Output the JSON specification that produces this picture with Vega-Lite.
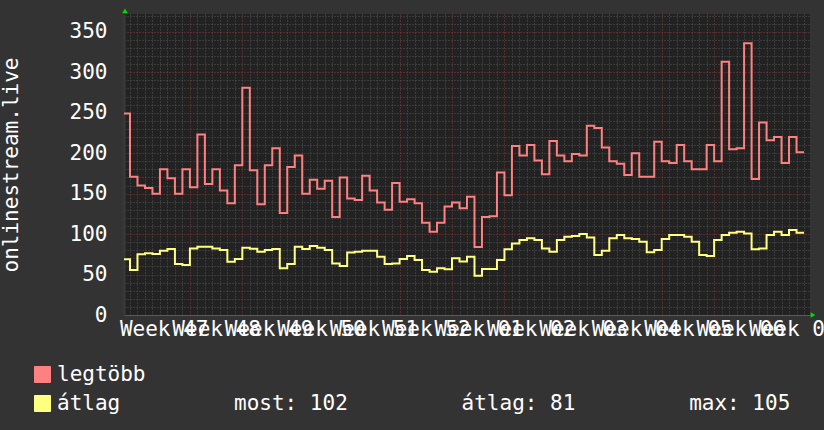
{
  "$schema": "https://vega.github.io/schema/vega-lite/v6.json",
  "width": 686,
  "height": 301,
  "autosize": {"type": "none"},
  "padding": {"left": 124, "top": 14, "right": 14, "bottom": 115},
  "background": "#333333",
  "config": {"view": {"fill": "#222222", "stroke": null}, "font": "DejaVu Sans Mono"},
  "datasets": {
    "series": [
      {"day": -2, "max": 249, "avg": 69},
      {"day": -1, "max": 171, "avg": 55.6},
      {"day": 0, "max": 160, "avg": 75},
      {"day": 1, "max": 157, "avg": 76.3},
      {"day": 2, "max": 150, "avg": 75.5},
      {"day": 3, "max": 180, "avg": 79.5},
      {"day": 4, "max": 169, "avg": 81.6},
      {"day": 5, "max": 150, "avg": 63},
      {"day": 6, "max": 180, "avg": 61.7},
      {"day": 7, "max": 158, "avg": 82.3},
      {"day": 8, "max": 223, "avg": 84.4},
      {"day": 9, "max": 162, "avg": 84.4},
      {"day": 10, "max": 180, "avg": 82.3},
      {"day": 11, "max": 154, "avg": 80.3},
      {"day": 12, "max": 138, "avg": 65.9},
      {"day": 13, "max": 185, "avg": 69.2},
      {"day": 14, "max": 281, "avg": 83.1},
      {"day": 15, "max": 179, "avg": 82},
      {"day": 16, "max": 137, "avg": 78.3},
      {"day": 17, "max": 185, "avg": 80.3},
      {"day": 18, "max": 206, "avg": 81.6},
      {"day": 19, "max": 126, "avg": 57.7},
      {"day": 20, "max": 183, "avg": 63},
      {"day": 21, "max": 197, "avg": 84.4},
      {"day": 22, "max": 150, "avg": 81.6},
      {"day": 23, "max": 167, "avg": 85.2},
      {"day": 24, "max": 156, "avg": 83.1},
      {"day": 25, "max": 166, "avg": 80.3},
      {"day": 26, "max": 121, "avg": 63.8},
      {"day": 27, "max": 170, "avg": 60.5},
      {"day": 28, "max": 144, "avg": 77.1},
      {"day": 29, "max": 142, "avg": 78.3},
      {"day": 30, "max": 172, "avg": 79.5},
      {"day": 31, "max": 154, "avg": 79.5},
      {"day": 32, "max": 139, "avg": 72.1},
      {"day": 33, "max": 130, "avg": 63},
      {"day": 34, "max": 163, "avg": 63.8},
      {"day": 35, "max": 140, "avg": 69.2},
      {"day": 36, "max": 143, "avg": 73},
      {"day": 37, "max": 138, "avg": 68},
      {"day": 38, "max": 114, "avg": 55.6},
      {"day": 39, "max": 103, "avg": 53.5},
      {"day": 40, "max": 114, "avg": 57.7},
      {"day": 41, "max": 134, "avg": 56.4},
      {"day": 42, "max": 139, "avg": 70},
      {"day": 43, "max": 132, "avg": 66},
      {"day": 44, "max": 146, "avg": 72},
      {"day": 45, "max": 84, "avg": 48.6},
      {"day": 46, "max": 121, "avg": 56.8},
      {"day": 47, "max": 122, "avg": 56.8},
      {"day": 48, "max": 176, "avg": 68},
      {"day": 49, "max": 148, "avg": 81.2},
      {"day": 50, "max": 209, "avg": 88.5},
      {"day": 51, "max": 197, "avg": 92.6},
      {"day": 52, "max": 210, "avg": 94.7},
      {"day": 53, "max": 191, "avg": 92.6},
      {"day": 54, "max": 174, "avg": 82.3},
      {"day": 55, "max": 215, "avg": 78.3},
      {"day": 56, "max": 197, "avg": 92.6},
      {"day": 57, "max": 190, "avg": 96.7},
      {"day": 58, "max": 199, "avg": 97.5},
      {"day": 59, "max": 197, "avg": 100},
      {"day": 60, "max": 234, "avg": 95.9},
      {"day": 61, "max": 231, "avg": 74.1},
      {"day": 62, "max": 207, "avg": 79.5},
      {"day": 63, "max": 190, "avg": 94.7},
      {"day": 64, "max": 187, "avg": 98.8},
      {"day": 65, "max": 173, "avg": 94.7},
      {"day": 66, "max": 200, "avg": 93.8},
      {"day": 67, "max": 171, "avg": 90.6},
      {"day": 68, "max": 171, "avg": 77.5},
      {"day": 69, "max": 214, "avg": 80.3},
      {"day": 70, "max": 190, "avg": 93.8},
      {"day": 71, "max": 188, "avg": 98.8},
      {"day": 72, "max": 210, "avg": 98.8},
      {"day": 73, "max": 190, "avg": 96.7},
      {"day": 74, "max": 180, "avg": 90.6},
      {"day": 75, "max": 180, "avg": 74.1},
      {"day": 76, "max": 210, "avg": 72.9},
      {"day": 77, "max": 190, "avg": 92.6},
      {"day": 78, "max": 313, "avg": 98.8},
      {"day": 79, "max": 205, "avg": 101.6},
      {"day": 80, "max": 206, "avg": 102.8},
      {"day": 81, "max": 336, "avg": 100.7},
      {"day": 82, "max": 168, "avg": 81.2},
      {"day": 83, "max": 238, "avg": 82.3},
      {"day": 84, "max": 216, "avg": 98.8},
      {"day": 85, "max": 220, "avg": 102.8},
      {"day": 86, "max": 188, "avg": 98.8},
      {"day": 87, "max": 220, "avg": 104.9},
      {"day": 88, "max": 201, "avg": 101.6},
      {"day": 89, "max": 201, "avg": 101.6}
    ],
    "arrows": [
      {"day": -1.67, "value": 376, "axis": "y"},
      {"day": 90.2, "value": 0, "axis": "x"}
    ]
  },
  "layer": [
    {
      "data": {"name": "series"},
      "transform": [{"fold": ["max", "avg"], "as": ["key", "value"]}],
      "mark": {"type": "line", "interpolate": "step-after", "strokeWidth": 2, "clip": true},
      "encoding": {
        "x": {
          "field": "day", "type": "quantitative",
          "scale": {"domain": [-1.8, 89.8], "nice": false, "zero": false},
          "axis": {
            "orient": "top", "title": null, "labels": false, "ticks": false, "domain": false,
            "grid": true, "gridDash": [1, 2], "gridWidth": 1,
            "gridColor": {"condition": {"test": "datum.value % 7 === 0", "value": "#8a3838"}, "value": "#555555"},
            "values": [-1,0,1,2,3,4,5,6,7,8,9,10,11,12,13,14,15,16,17,18,19,20,21,22,23,24,25,26,27,28,29,30,31,32,33,34,35,36,37,38,39,40,41,42,43,44,45,46,47,48,49,50,51,52,53,54,55,56,57,58,59,60,61,62,63,64,65,66,67,68,69,70,71,72,73,74,75,76,77,78,79,80,81,82,83,84,85,86,87,88,89]
          }
        },
        "y": {
          "field": "value", "type": "quantitative",
          "scale": {"domain": [0, 372], "nice": false},
          "axis": {
            "values": [0,10,20,30,40,50,60,70,80,90,100,110,120,130,140,150,160,170,180,190,200,210,220,230,240,250,260,270,280,290,300,310,320,330,340,350,360,370],
            "grid": true, "gridDash": [1, 2], "gridWidth": 1,
            "gridColor": {"condition": {"test": "datum.value % 50 === 0", "value": "#8a3838"}, "value": "#555555"},
            "labelExpr": "datum.value % 50 === 0 ? datum.label : ''",
            "ticks": false, "domain": true, "domainColor": "#3a3a3a", "domainWidth": 2,
            "labelPadding": 17, "labelFont": "DejaVu Sans Mono", "labelFontSize": 21, "labelColor": "#ffffff",
            "title": "onlinestream.live", "titleFont": "DejaVu Sans Mono", "titleFontSize": 21, "titleFontWeight": "normal",
            "titleColor": "#ffffff", "titleAngle": -90, "titleX": -113, "titleY": 150.5, "titleAlign": "center", "titleBaseline": "middle"
          }
        },
        "color": {
          "field": "key", "type": "nominal",
          "scale": {"domain": ["max", "avg"], "range": ["#ff8080", "#ffff80"]},
          "legend": {
            "orient": "none", "legendX": -92, "legendY": 350, "direction": "vertical", "title": null, "padding": 0,
            "symbolType": "square", "symbolSize": 256, "rowPadding": 7, "labelOffset": 4, "labelLimit": 0,
            "labelFont": "DejaVu Sans Mono", "labelFontSize": 21, "labelColor": "#ffffff",
            "labelExpr": "datum.value === 'max' ? 'legtöbb' : 'átlag\u00a0\u00a0\u00a0\u00a0\u00a0\u00a0\u00a0\u00a0\u00a0most:\u00a0102\u00a0\u00a0\u00a0\u00a0\u00a0\u00a0\u00a0\u00a0\u00a0átlag:\u00a081\u00a0\u00a0\u00a0\u00a0\u00a0\u00a0\u00a0\u00a0\u00a0max:\u00a0105'",
            "encode": {"symbols": {"update": {"fill": {"scale": "color", "field": "value"}, "stroke": {"value": "#000000"}, "strokeWidth": {"value": 1}, "opacity": {"value": 1}}}}
          }
        }
      }
    },
    {
      "data": {"name": "arrows"},
      "mark": {"type": "point", "filled": true, "color": "#00dd00", "size": 30, "opacity": 1},
      "encoding": {
        "x": {
          "field": "day", "type": "quantitative",
          "scale": {"domain": [-1.8, 89.8], "nice": false, "zero": false},
          "axis": {
            "orient": "bottom", "title": null, "grid": false, "ticks": false,
            "domain": true, "domainColor": "#5a5a5a",
            "values": [3.5,10.5,17.5,24.5,31.5,38.5,45.5,52.5,59.5,66.5,73.5,80.5,87.5],
            "labelExpr": "['Week 47','Week 48','Week 49','Week 50','Week 51','Week 52','Week 01','Week 02','Week 03','Week 04','Week 05','Week 06','Week 07'][floor(datum.value / 7)]",
            "labelOverlap": false, "labelFlush": false, "labelBound": false, "labelLimit": 0,
            "labelPadding": 3, "labelFont": "DejaVu Sans Mono", "labelFontSize": 21, "labelColor": "#ffffff"
          }
        },
        "y": {"field": "value", "type": "quantitative", "scale": {"domain": [0, 372], "nice": false}, "axis": null},
        "shape": {"field": "axis", "type": "nominal", "scale": {"domain": ["y", "x"], "range": ["triangle-up", "triangle-right"]}, "legend": null}
      }
    }
  ],
  "resolve": {"axis": {"x": "independent", "y": "independent"}}
}
